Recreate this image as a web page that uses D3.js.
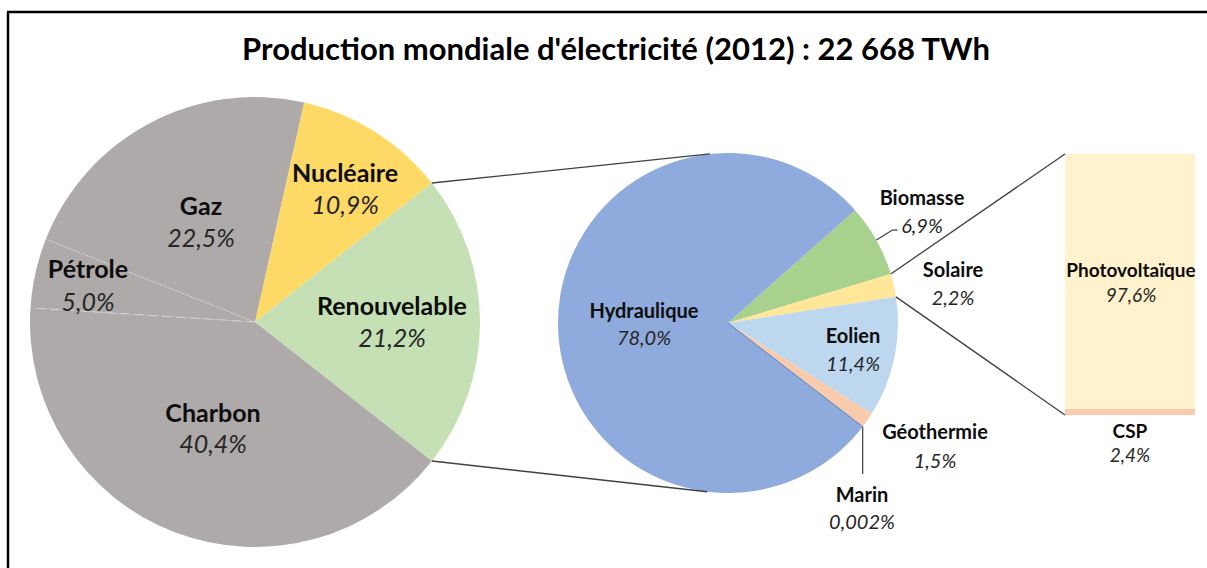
<!DOCTYPE html>
<html><head><meta charset="utf-8">
<script src="https://cdn.jsdelivr.net/npm/d3@7"></script>
<style>
html,body{margin:0;padding:0;background:#fff;}
text{font-family:Lato,"Open Sans",sans-serif;}
</style></head>
<body>
<svg id="chart" width="1207" height="568"></svg>
<script>
// ---------- DATA ----------
const title = "Production mondiale d'électricité (2012) : 22 668 TWh";
const mainCategories = ["Nucléaire", "Renouvelable", "Charbon", "Pétrole", "Gaz"];
const mainValues     = [10.9, 21.2, 40.4, 5.0, 22.5];
const mainLabels     = ["10,9%", "21,2%", "40,4%", "5,0%", "22,5%"];

const renewCategories = ["Biomasse", "Solaire", "Eolien", "Géothermie", "Marin", "Hydraulique"];
const renewValues     = [6.9, 2.2, 11.4, 1.5, 0.002, 78.0];
const renewLabels     = ["6,9%", "2,2%", "11,4%", "1,5%", "0,002%", "78,0%"];

const solarCategories = ["CSP", "Photovoltaïque"];
const solarValues     = [2.4, 97.6];
const solarLabels     = ["2,4%", "97,6%"];

// ---------- STYLE / LAYOUT ----------
const mainColors  = {"Nucléaire":"#ffd966","Renouvelable":"#c5e0b4","Charbon":"#aeaaaa","Pétrole":"#aeaaaa","Gaz":"#aeaaaa"};
const renewColors = {"Biomasse":"#a9d18e","Solaire":"#ffe699","Eolien":"#bdd7ee","Géothermie":"#f8cbad","Marin":"#4f81bd","Hydraulique":"#8faadc"};
const solarColors = {"CSP":"#f8cbad","Photovoltaïque":"#fff2cc"};

const P1 = {cx:255, cy:322, r:225};
const P2 = {cx:728, cy:323, r:170};
const BAR = {x:1065, w:130, top:154, bottom:415};

// label anchors (x, name baseline, value baseline)
const mainLabelPos = {
  "Gaz":[201,215,247], "Nucléaire":[345,182,214], "Pétrole":[88,278,311],
  "Renouvelable":[392,315,347], "Charbon":[213,422,453]
};
const renewLabelPos = {
  "Hydraulique":[644,318,345], "Eolien":[853,343,371], "Marin":[862,502,529],
  "Biomasse":[922,205,233], "Solaire":[953,277,305], "Géothermie":[935,439,468]
};
const solarLabelPos = {"Photovoltaïque":[1131,277,302], "CSP":[1130,438,462]};

const svg = d3.select("#chart");
const deg = Math.PI/180;

// frame (top & left edges visible)
svg.append("line").attr("x1",7).attr("y1",12).attr("x2",1207).attr("y2",12).attr("stroke","#000").attr("stroke-width",2.5);
svg.append("line").attr("x1",8).attr("y1",12).attr("x2",8).attr("y2",568).attr("stroke","#000").attr("stroke-width",2.5);

// title
svg.append("text").attr("x",616).attr("y",60).attr("text-anchor","middle")
  .attr("font-size",31).attr("font-weight","bold").attr("fill","#000").text(title);

// ---------- Main pie ----------
const mainTotal = d3.sum(mainValues);
const renewIdx = mainCategories.indexOf("Renouvelable");
const beforeRenew = d3.sum(mainValues.slice(0, renewIdx));
const mainStart = Math.PI/2 - 2*Math.PI*(beforeRenew + mainValues[renewIdx]/2)/mainTotal;
const pie1 = d3.pie().sort(null).value(d=>d.v).startAngle(mainStart).endAngle(mainStart+2*Math.PI);
const data1 = mainCategories.map((c,i)=>({c, v:mainValues[i], l:mainLabels[i]}));
const arcs1 = pie1(data1);
const arc1 = d3.arc().innerRadius(0).outerRadius(P1.r);
const g1 = svg.append("g").attr("transform",`translate(${P1.cx},${P1.cy})`);
g1.selectAll("path").data(arcs1).join("path").attr("d",arc1).attr("fill",d=>mainColors[d.data.c]);

function polar(c, r, a){ return [c.cx + r*Math.sin(a), c.cy - r*Math.cos(a)]; }

// separators between grey slices
const charb = arcs1.find(d=>d.data.c==="Charbon");
const petr  = arcs1.find(d=>d.data.c==="Pétrole");
[[charb.endAngle,"9,5"],[petr.endAngle,"2,2"]].forEach(([a,dash])=>{
  const p = polar(P1, P1.r, a);
  svg.append("line").attr("x1",P1.cx).attr("y1",P1.cy).attr("x2",p[0]).attr("y2",p[1])
    .attr("stroke","#d6d4d4").attr("stroke-width",1).attr("stroke-dasharray",dash);
});

// ---------- Second pie ----------
const pie2 = d3.pie().sort(null).value(d=>d.v).startAngle(48.4*deg).endAngle(48.4*deg+2*Math.PI);
const data2 = renewCategories.map((c,i)=>({c, v:renewValues[i], l:renewLabels[i]}));
const arcs2 = pie2(data2);
const arc2 = d3.arc().innerRadius(0).outerRadius(P2.r);
const g2 = svg.append("g").attr("transform",`translate(${P2.cx},${P2.cy})`);
g2.selectAll("path").data(arcs2).join("path").attr("d",arc2).attr("fill",d=>renewColors[d.data.c]);
// marin thin slice line
const marin = arcs2.find(d=>d.data.c==="Marin");
{ const p = polar(P2, P2.r, marin.startAngle);
  svg.append("line").attr("x1",P2.cx).attr("y1",P2.cy).attr("x2",p[0]).attr("y2",p[1])
    .attr("stroke","#4f81bd").attr("stroke-width",1); }

// connectors main -> second pie
const ren = arcs1[renewIdx];
const c1a = polar(P1, P1.r, ren.startAngle), c1b = polar(P1, P1.r, ren.endAngle);
const c2a = polar(P2, P2.r, -6.1*deg), c2b = polar(P2, P2.r, 187*deg);
svg.append("line").attr("x1",c1a[0]).attr("y1",c1a[1]).attr("x2",c2a[0]).attr("y2",c2a[1]).attr("stroke","#404040").attr("stroke-width",1.3);
svg.append("line").attr("x1",c1b[0]).attr("y1",c1b[1]).attr("x2",c2b[0]).attr("y2",c2b[1]).attr("stroke","#404040").attr("stroke-width",1.3);

// ---------- Bar ----------
const y = d3.scaleLinear().domain([0, d3.sum(solarValues)]).range([BAR.bottom, BAR.top]);
const stack = []; let acc = 0;
solarCategories.forEach((c,i)=>{ stack.push({c, v0:acc, v1:acc+solarValues[i], l:solarLabels[i]}); acc += solarValues[i]; });
svg.selectAll("rect.bar").data(stack).join("rect").attr("class","bar")
  .attr("x",BAR.x).attr("width",BAR.w).attr("y",d=>y(d.v1)).attr("height",d=>y(d.v0)-y(d.v1))
  .attr("fill",d=>solarColors[d.c]);

// connectors second pie -> bar
const sol = arcs2.find(d=>d.data.c==="Solaire");
const s1 = polar(P2, P2.r, sol.startAngle), s2 = polar(P2, P2.r, sol.endAngle);
svg.append("line").attr("x1",s1[0]).attr("y1",s1[1]).attr("x2",BAR.x).attr("y2",y(d3.sum(solarValues))).attr("stroke","#404040").attr("stroke-width",1.3);
svg.append("line").attr("x1",s2[0]).attr("y1",s2[1]).attr("x2",BAR.x).attr("y2",y(0)).attr("stroke","#404040").attr("stroke-width",1.3);

// leader lines
const bio = arcs2.find(d=>d.data.c==="Biomasse");
{ const p = polar(P2, P2.r, (bio.startAngle+bio.endAngle)/2);
  svg.append("polyline").attr("points",`${p[0]},${p[1]} ${p[0]+16},${p[1]-10} ${p[0]+21},${p[1]-10}`)
    .attr("fill","none").attr("stroke","#404040").attr("stroke-width",1.2); }
{ const p = polar(P2, P2.r, (marin.startAngle+marin.endAngle)/2);
  svg.append("line").attr("x1",p[0]).attr("y1",p[1]).attr("x2",p[0]).attr("y2",renewLabelPos["Marin"][1]-28)
    .attr("stroke","#404040").attr("stroke-width",1.2); }

// ---------- Labels ----------
function label(name, value, pos, fsName, fsVal){
  svg.append("text").attr("x",pos[0]).attr("y",pos[1]).attr("text-anchor","middle")
    .attr("font-size",fsName).attr("font-weight","bold").attr("fill","#0d0d0d").text(name);
  svg.append("text").attr("x",pos[0]).attr("y",pos[2]).attr("text-anchor","middle")
    .attr("font-size",fsVal).attr("font-style","italic").attr("fill","#262626").text(value);
}
data1.forEach(d=>label(d.c, d.l, mainLabelPos[d.c], 25, 25));
data2.forEach(d=>label(d.c, d.l, renewLabelPos[d.c], 20, 20));
solarCategories.forEach((c,i)=>label(c, solarLabels[i], solarLabelPos[c], 19, 19));
</script>
</body></html>
